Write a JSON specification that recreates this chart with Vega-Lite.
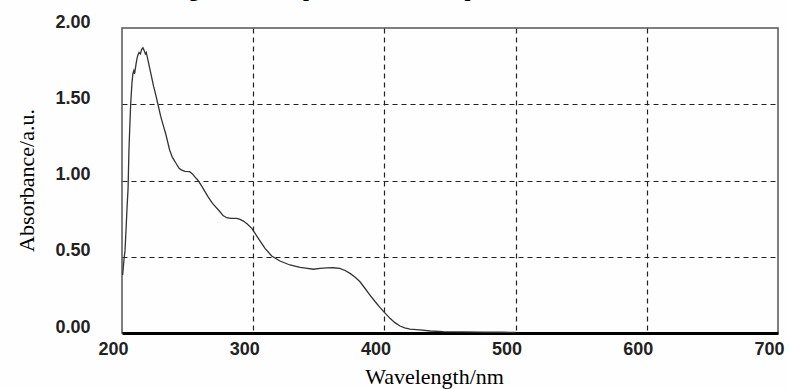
{
  "$schema": "https://vega.github.io/schema/vega-lite/v6.json",
  "width": 656,
  "height": 305,
  "autosize": {"type": "none"},
  "padding": {"left": 122, "top": 28, "right": 11, "bottom": 56},
  "background": "#fefefe",
  "title": {
    "text": "Fig. 6 UV-Vis spectrum of No. 6 quercetin solution",
    "font": "Liberation Serif",
    "fontSize": 21,
    "fontWeight": "bold",
    "color": "black",
    "anchor": "middle",
    "dx": -55,
    "offset": 13
  },
  "config": {"view": {"stroke": "#555", "strokeWidth": 1.5}},
  "data": {
    "values": [
      {"wavelength": 200.5, "absorbance": 0.38},
      {"wavelength": 200.8, "absorbance": 0.41},
      {"wavelength": 201.5, "absorbance": 0.48},
      {"wavelength": 202.3, "absorbance": 0.54},
      {"wavelength": 203.2, "absorbance": 0.70},
      {"wavelength": 204.0, "absorbance": 0.85},
      {"wavelength": 204.6, "absorbance": 0.94},
      {"wavelength": 205.3, "absorbance": 1.20},
      {"wavelength": 205.8, "absorbance": 1.32},
      {"wavelength": 206.6, "absorbance": 1.50},
      {"wavelength": 207.6, "absorbance": 1.64},
      {"wavelength": 208.3, "absorbance": 1.70},
      {"wavelength": 209.0, "absorbance": 1.72},
      {"wavelength": 209.6, "absorbance": 1.70},
      {"wavelength": 210.3, "absorbance": 1.74},
      {"wavelength": 211.2, "absorbance": 1.79},
      {"wavelength": 212.0, "absorbance": 1.82},
      {"wavelength": 213.0, "absorbance": 1.84},
      {"wavelength": 214.0, "absorbance": 1.83},
      {"wavelength": 215.0, "absorbance": 1.86},
      {"wavelength": 216.0, "absorbance": 1.87},
      {"wavelength": 217.0, "absorbance": 1.85},
      {"wavelength": 217.8, "absorbance": 1.83},
      {"wavelength": 218.5, "absorbance": 1.84},
      {"wavelength": 219.8, "absorbance": 1.79},
      {"wavelength": 221.0, "absorbance": 1.74},
      {"wavelength": 222.3, "absorbance": 1.69},
      {"wavelength": 224.0, "absorbance": 1.62},
      {"wavelength": 225.5, "absorbance": 1.57},
      {"wavelength": 227.4, "absorbance": 1.50},
      {"wavelength": 229.5, "absorbance": 1.42},
      {"wavelength": 231.5, "absorbance": 1.36},
      {"wavelength": 233.5, "absorbance": 1.30},
      {"wavelength": 236.3, "absorbance": 1.20},
      {"wavelength": 238.5, "absorbance": 1.15},
      {"wavelength": 241.4, "absorbance": 1.11},
      {"wavelength": 243.5, "absorbance": 1.08},
      {"wavelength": 245.2, "absorbance": 1.07},
      {"wavelength": 248.0, "absorbance": 1.06},
      {"wavelength": 251.6, "absorbance": 1.058},
      {"wavelength": 253.5, "absorbance": 1.045},
      {"wavelength": 255.4, "absorbance": 1.025},
      {"wavelength": 258.0, "absorbance": 1.0},
      {"wavelength": 261.0, "absorbance": 0.96},
      {"wavelength": 265.5, "absorbance": 0.894},
      {"wavelength": 269.0, "absorbance": 0.85},
      {"wavelength": 274.7, "absorbance": 0.795},
      {"wavelength": 277.0, "absorbance": 0.77},
      {"wavelength": 279.8, "absorbance": 0.756},
      {"wavelength": 283.0, "absorbance": 0.752},
      {"wavelength": 287.4, "absorbance": 0.752},
      {"wavelength": 290.0, "absorbance": 0.745},
      {"wavelength": 292.5, "absorbance": 0.734},
      {"wavelength": 295.5, "absorbance": 0.715},
      {"wavelength": 298.9, "absorbance": 0.686},
      {"wavelength": 303.9, "absorbance": 0.621},
      {"wavelength": 309.0, "absorbance": 0.555},
      {"wavelength": 314.1, "absorbance": 0.505},
      {"wavelength": 320.4, "absorbance": 0.472},
      {"wavelength": 328.0, "absorbance": 0.446},
      {"wavelength": 335.7, "absorbance": 0.431},
      {"wavelength": 340.0, "absorbance": 0.425},
      {"wavelength": 345.8, "absorbance": 0.418},
      {"wavelength": 351.0, "absorbance": 0.424},
      {"wavelength": 356.0, "absorbance": 0.427},
      {"wavelength": 361.0, "absorbance": 0.428},
      {"wavelength": 366.0, "absorbance": 0.424},
      {"wavelength": 370.0, "absorbance": 0.41},
      {"wavelength": 373.8, "absorbance": 0.391},
      {"wavelength": 377.5, "absorbance": 0.367},
      {"wavelength": 381.4, "absorbance": 0.336},
      {"wavelength": 385.0, "absorbance": 0.295},
      {"wavelength": 389.0, "absorbance": 0.249},
      {"wavelength": 393.0, "absorbance": 0.205},
      {"wavelength": 396.6, "absorbance": 0.168},
      {"wavelength": 400.5, "absorbance": 0.13},
      {"wavelength": 404.3, "absorbance": 0.096},
      {"wavelength": 408.0, "absorbance": 0.068},
      {"wavelength": 411.9, "absorbance": 0.046},
      {"wavelength": 415.5, "absorbance": 0.034},
      {"wavelength": 419.5, "absorbance": 0.026},
      {"wavelength": 427.0, "absorbance": 0.02},
      {"wavelength": 435.0, "absorbance": 0.013},
      {"wavelength": 445.0, "absorbance": 0.009},
      {"wavelength": 460.0, "absorbance": 0.007},
      {"wavelength": 475.0, "absorbance": 0.006},
      {"wavelength": 490.0, "absorbance": 0.005},
      {"wavelength": 500.0, "absorbance": 0.004}
    ]
  },
  "mark": {"type": "line", "color": "#333", "strokeWidth": 1.3},
  "encoding": {
    "x": {
      "field": "wavelength",
      "type": "quantitative",
      "scale": {"domain": [200, 700], "nice": false, "zero": false},
      "axis": {
        "values": [200, 300, 400, 500, 600, 700],
        "format": "d",
        "labelFont": "Liberation Sans",
        "labelFontSize": 18,
        "labelFontWeight": "bold",
        "labelColor": "#222",
        "labelOffset": -9,
        "labelPadding": 7,
        "labelFlush": false,
        "labelOverlap": false,
        "ticks": false,
        "tickSize": 0,
        "domain": true,
        "domainColor": "black",
        "domainWidth": 3,
        "grid": true,
        "gridColor": "#222",
        "gridDash": [5, 4],
        "gridWidth": 1.2,
        "gridOpacity": {"condition": {"test": "datum.value == 200 || datum.value == 700", "value": 0}, "value": 1},
        "title": "Wavelength/nm",
        "titleFont": "Liberation Serif",
        "titleFontSize": 22,
        "titleFontWeight": "normal",
        "titleColor": "black",
        "titleX": 312,
        "titleY": 50,
        "titleAlign": "center",
        "titleBaseline": "alphabetic"
      }
    },
    "y": {
      "field": "absorbance",
      "type": "quantitative",
      "scale": {"domain": [0, 2], "nice": false},
      "axis": {
        "values": [0, 0.5, 1, 1.5, 2],
        "format": ".2f",
        "labelFont": "Liberation Sans",
        "labelFontSize": 18,
        "labelFontWeight": "bold",
        "labelColor": "#222",
        "labelOffset": -6,
        "labelPadding": 32,
        "labelFlush": false,
        "labelOverlap": false,
        "ticks": false,
        "tickSize": 0,
        "domain": false,
        "grid": true,
        "gridColor": "#222",
        "gridDash": [5, 4],
        "gridWidth": 1.2,
        "gridOpacity": {"condition": {"test": "datum.value == 0 || datum.value == 2", "value": 0}, "value": 1},
        "title": "Absorbance/a.u.",
        "titleFont": "Liberation Serif",
        "titleFontSize": 22,
        "titleFontWeight": "normal",
        "titleColor": "black",
        "titleAngle": -90,
        "titleX": -89,
        "titleY": 152,
        "titleAlign": "center",
        "titleBaseline": "alphabetic"
      }
    }
  }
}
